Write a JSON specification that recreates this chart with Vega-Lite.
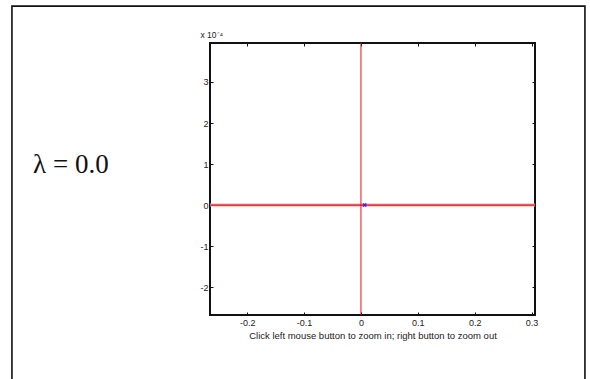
{
  "$schema": "https://vega.github.io/schema/vega-lite/v6.json",
  "width": 325,
  "height": 272,
  "autosize": {"type": "none"},
  "padding": {"left": 210, "top": 43, "right": 55, "bottom": 64},
  "background": "white",
  "config": {
    "view": {"stroke": "#111", "strokeWidth": 2},
    "axis": {
      "labelFont": "Liberation Sans",
      "labelFontSize": 9,
      "labelColor": "#222",
      "titleFont": "Liberation Sans",
      "titleFontWeight": "normal",
      "titleColor": "#222",
      "grid": false,
      "domain": false,
      "tickColor": "#111",
      "tickSize": -3,
      "tickWidth": 1
    }
  },
  "data": {"values": [{"re": 0.0065, "im": 0}]},
  "layer": [
    {
      "mark": {"type": "rect", "fill": null, "stroke": "#111", "strokeWidth": 1.6, "clip": false},
      "encoding": {
        "x": {"datum": -0.6136, "type": "quantitative", "scale": {"domain": [-0.2654, 0.306], "nice": false, "zero": false},
          "axis": {"orient": "bottom", "values": [-0.2, -0.1, 0, 0.1, 0.2, 0.3], "labelExpr": "'' + datum.value", "labelPadding": 6,
            "title": "Click left mouse button to zoom in; right button to zoom out", "titleFontSize": 9.5, "titlePadding": 3}},
        "x2": {"datum": 0.3938},
        "y": {"datum": 4.85, "type": "quantitative", "scale": {"domain": [-2.68, 3.95], "nice": false, "zero": false},
          "axis": {"orient": "left", "values": [-2, -1, 0, 1, 2, 3], "labelExpr": "'' + datum.value", "labelPadding": 5,
            "title": "x 10⁻⁴", "titleAngle": 0, "titleFontSize": 8.5, "titleAlign": "left", "titleBaseline": "alphabetic", "titleX": -10, "titleY": -6}},
        "y2": {"datum": -5.5}
      }
    },
    {
      "mark": {"type": "text", "font": "Liberation Serif", "fontSize": 27, "align": "center", "baseline": "alphabetic", "color": "#111", "clip": false},
      "encoding": {
        "x": {"datum": -0.51, "type": "quantitative", "axis": {"orient": "top", "values": [-0.2, -0.1, 0, 0.1, 0.2, 0.3], "labels": false, "title": null}},
        "y": {"datum": 0.78, "type": "quantitative", "axis": {"orient": "right", "values": [-2, -1, 0, 1, 2, 3], "labels": false, "title": null}},
        "text": {"value": "λ = 0.0"}
      }
    },
    {
      "mark": {"type": "rule", "color": "#f5a3a3", "strokeWidth": 3},
      "encoding": {"y": {"datum": 0, "type": "quantitative", "axis": null}}
    },
    {
      "mark": {"type": "rule", "color": "#e8141c", "strokeWidth": 1.2},
      "encoding": {"y": {"datum": 0, "type": "quantitative", "axis": null}}
    },
    {
      "mark": {"type": "rule", "color": "#e8141c", "strokeWidth": 1},
      "encoding": {"x": {"datum": 0, "type": "quantitative", "axis": null}}
    },
    {
      "mark": {"type": "point", "shape": "M-1,-1L1,1M-1,1L1,-1", "size": 10, "stroke": "#2020ff", "strokeWidth": 1.3, "filled": false, "opacity": 1},
      "encoding": {
        "x": {"field": "re", "type": "quantitative", "axis": null},
        "y": {"field": "im", "type": "quantitative", "axis": null}
      }
    }
  ],
  "resolve": {"axis": {"x": "independent", "y": "independent"}}
}
